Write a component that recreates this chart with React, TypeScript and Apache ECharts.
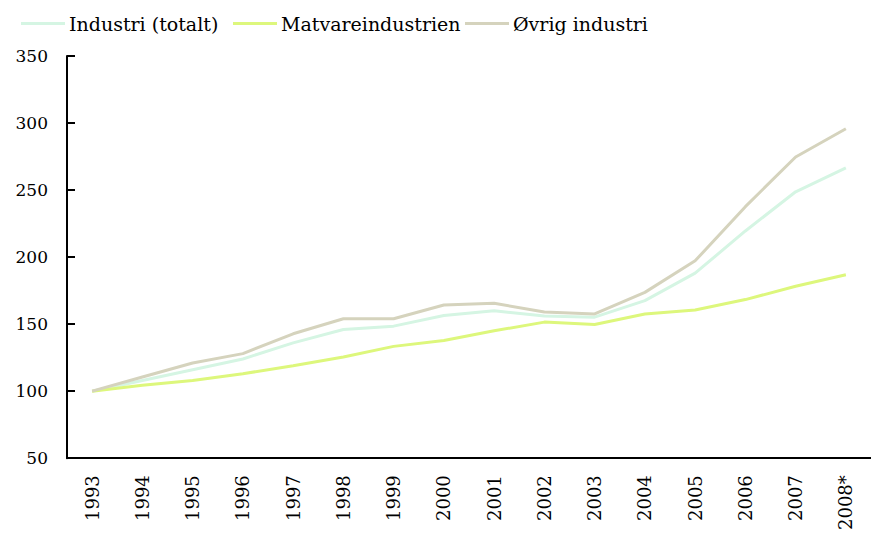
import React, { useEffect, useRef } from "react";
import * as echarts from "echarts";

const years = ["1993","1994","1995","1996","1997","1998","1999","2000","2001","2002","2003","2004","2005","2006","2007","2008*"];
const industriTotalt = [100, 108, 116, 124, 136, 146, 148.5, 156.4, 160, 156, 155.2, 167.5, 188, 219.5, 248.7, 266.5];
const matvare = [100, 104.4, 108, 113, 119, 125.5, 133.4, 137.8, 145, 151.5, 149.7, 157.6, 160.6, 168.3, 178.2, 186.8];
const ovrig = [100, 110.6, 121, 128, 142.8, 154, 154, 164.3, 165.6, 159, 157.6, 173.7, 197.2, 237.6, 274.7, 295.7];
const seriesNames = ["Industri (totalt)", "Matvareindustrien", "Øvrig industri"];
const colors = ["#d5f5e3", "#ddf77c", "#d5d3bd"];

const FONT = "DejaVu Serif";

export default function App() {
  const ref = useRef<HTMLDivElement>(null);
  useEffect(() => {
    const chart = echarts.init(ref.current!, null, { renderer: "svg" });
    const legendLefts = [16, 228, 460];
    chart.setOption({
      animation: false,
      backgroundColor: "#ffffff",
      color: colors,
      textStyle: { fontFamily: FONT },
      legend: seriesNames.map((n, i) => ({
        left: legendLefts[i],
        top: 9,
        itemWidth: 44,
        itemHeight: 3,
        icon: "rect",
        textStyle: { fontFamily: FONT, fontSize: 19, color: "#000", padding: [0, 0, 0, -1] },
        data: [n],
      })),
      grid: { left: 67, top: 56, bottom: 73, width: 810, containLabel: false },
      xAxis: {
        type: "category",
        data: years,
        boundaryGap: true,
        axisLine: { lineStyle: { color: "#000", width: 2 } },
        axisTick: { inside: true, length: 8, lineStyle: { color: "#000", width: 2 } },
        axisLabel: { rotate: 90, margin: 17, fontSize: 18, color: "#000", fontFamily: FONT, interval: 0 },
        splitLine: { show: false },
      },
      yAxis: {
        type: "value",
        min: 50,
        max: 350,
        interval: 50,
        axisLine: { show: true, lineStyle: { color: "#000", width: 2 } },
        axisTick: { show: true, inside: true, length: 8, lineStyle: { color: "#000", width: 2 } },
        axisLabel: { margin: 19, fontSize: 17, color: "#000", fontFamily: FONT },
        splitLine: { show: false },
      },
      series: [
        { name: seriesNames[0], type: "line", data: industriTotalt, symbol: "none", lineStyle: { width: 3, color: colors[0] } },
        { name: seriesNames[1], type: "line", data: matvare, symbol: "none", lineStyle: { width: 3, color: colors[1] } },
        { name: seriesNames[2], type: "line", data: ovrig, symbol: "none", lineStyle: { width: 3, color: colors[2] } },
      ],
    });
    return () => chart.dispose();
  }, []);
  return <div ref={ref} style={{ position: "fixed", left: 0, top: 0, width: 871, height: 533 }} />;
}
